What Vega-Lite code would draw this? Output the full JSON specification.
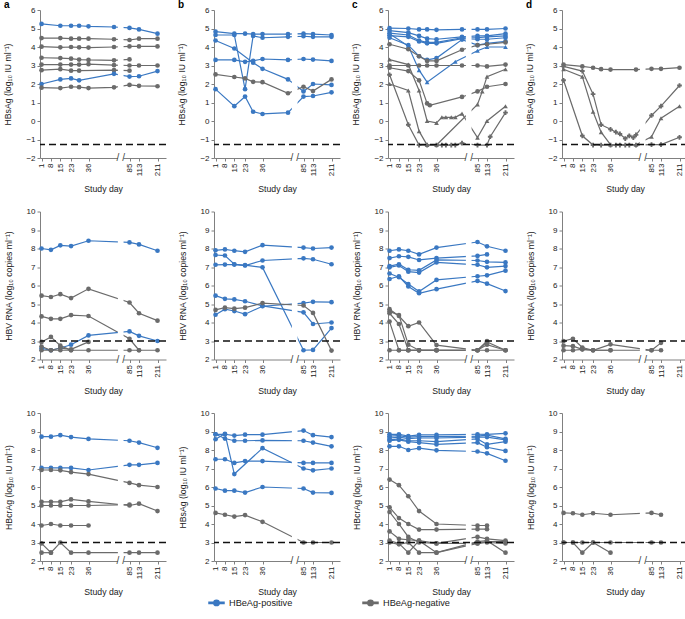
{
"$schema": "https://vega.github.io/schema/vega-lite/v6.json",
"padding": {"left": 3, "top": 0, "right": 0, "bottom": 0},
"config": {
 "font": "Liberation Sans",
 "view": {"stroke": null},
 "axis": {"zindex": 0, "grid": false, "domainColor": "#808080", "tickColor": "#808080", "domainWidth": 1, "tickWidth": 1, "tickSize": 3, "labelFontSize": 8, "labelColor": "#222", "labelPadding": 2, "titleFontSize": 8.7, "titleFontWeight": "normal", "titleColor": "#222", "labelFlush": false, "labelOverlap": false},
 "axisY": {"titlePadding": 13},
 "axisX": {"titlePadding": 9},
 "title": {"fontSize": 10, "fontWeight": "bold", "anchor": "start", "frame": "bounds", "offset": -4, "color": "#000"}
},
"datasets": {"d": [
{"p":"a1","i":"a1P1","g":"P","m":"c","d":1,"v":5.25},{"p":"a1","i":"a1P1","g":"P","m":"c","d":15,"v":5.15},{"p":"a1","i":"a1P1","g":"P","m":"c","d":23,"v":5.15},{"p":"a1","i":"a1P1","g":"P","m":"c","d":29,"v":5.15},{"p":"a1","i":"a1P1","g":"P","m":"c","d":36,"v":5.12},{"p":"a1","i":"a1P1","g":"P","m":"c","d":55,"v":5.08},{"p":"a1","i":"a1P1","g":"P","m":"c","d":85,"v":5.03},{"p":"a1","i":"a1P1","g":"P","m":"c","d":113,"v":4.95},{"p":"a1","i":"a1P1","g":"P","m":"c","d":211,"v":4.72},
{"p":"a1","i":"a1N1","g":"N","m":"c","d":1,"v":4.48},{"p":"a1","i":"a1N1","g":"N","m":"c","d":15,"v":4.48},{"p":"a1","i":"a1N1","g":"N","m":"c","d":23,"v":4.45},{"p":"a1","i":"a1N1","g":"N","m":"c","d":29,"v":4.45},{"p":"a1","i":"a1N1","g":"N","m":"c","d":36,"v":4.45},{"p":"a1","i":"a1N1","g":"N","m":"c","d":55,"v":4.42},{"p":"a1","i":"a1N1","g":"N","m":"c","d":85,"v":4.38},{"p":"a1","i":"a1N1","g":"N","m":"c","d":113,"v":4.45},{"p":"a1","i":"a1N1","g":"N","m":"c","d":211,"v":4.45},
{"p":"a1","i":"a1N2","g":"N","m":"c","d":1,"v":4.02},{"p":"a1","i":"a1N2","g":"N","m":"c","d":15,"v":3.98},{"p":"a1","i":"a1N2","g":"N","m":"c","d":23,"v":4.0},{"p":"a1","i":"a1N2","g":"N","m":"c","d":29,"v":3.98},{"p":"a1","i":"a1N2","g":"N","m":"c","d":36,"v":3.97},{"p":"a1","i":"a1N2","g":"N","m":"c","d":55,"v":4.0},{"p":"a1","i":"a1N2","g":"N","m":"c","d":85,"v":4.03},{"p":"a1","i":"a1N2","g":"N","m":"c","d":113,"v":4.03},{"p":"a1","i":"a1N2","g":"N","m":"c","d":211,"v":4.03},
{"p":"a1","i":"a1N3","g":"N","m":"c","d":1,"v":3.42},{"p":"a1","i":"a1N3","g":"N","m":"c","d":15,"v":3.4},{"p":"a1","i":"a1N3","g":"N","m":"c","d":23,"v":3.37},{"p":"a1","i":"a1N3","g":"N","m":"c","d":29,"v":3.32},{"p":"a1","i":"a1N3","g":"N","m":"c","d":36,"v":3.3},{"p":"a1","i":"a1N3","g":"N","m":"c","d":55,"v":3.28},{"p":"a1","i":"a1N3","g":"N","m":"c","d":85,"v":3.33},
{"p":"a1","i":"a1N4","g":"N","m":"c","d":1,"v":3.05},{"p":"a1","i":"a1N4","g":"N","m":"c","d":15,"v":3.05},{"p":"a1","i":"a1N4","g":"N","m":"c","d":23,"v":3.05},{"p":"a1","i":"a1N4","g":"N","m":"c","d":29,"v":3.05},{"p":"a1","i":"a1N4","g":"N","m":"c","d":36,"v":3.07},{"p":"a1","i":"a1N4","g":"N","m":"c","d":55,"v":3.02},{"p":"a1","i":"a1N4","g":"N","m":"c","d":85,"v":3.0},{"p":"a1","i":"a1N4","g":"N","m":"c","d":113,"v":3.0},{"p":"a1","i":"a1N4","g":"N","m":"c","d":211,"v":3.0},
{"p":"a1","i":"a1N5","g":"N","m":"c","d":1,"v":2.75},{"p":"a1","i":"a1N5","g":"N","m":"c","d":15,"v":2.8},{"p":"a1","i":"a1N5","g":"N","m":"c","d":23,"v":2.72},{"p":"a1","i":"a1N5","g":"N","m":"c","d":29,"v":2.72},{"p":"a1","i":"a1N5","g":"N","m":"c","d":55,"v":2.75},{"p":"a1","i":"a1N5","g":"N","m":"c","d":85,"v":2.72},
{"p":"a1","i":"a1P2","g":"P","m":"c","d":1,"v":2.0},{"p":"a1","i":"a1P2","g":"P","m":"c","d":15,"v":2.25},{"p":"a1","i":"a1P2","g":"P","m":"c","d":23,"v":2.3},{"p":"a1","i":"a1P2","g":"P","m":"c","d":29,"v":2.2},{"p":"a1","i":"a1P2","g":"P","m":"c","d":55,"v":2.55},{"p":"a1","i":"a1P2","g":"P","m":"c","d":85,"v":2.4},{"p":"a1","i":"a1P2","g":"P","m":"c","d":113,"v":2.42},{"p":"a1","i":"a1P2","g":"P","m":"c","d":211,"v":2.7},
{"p":"a1","i":"a1N6","g":"N","m":"c","d":1,"v":1.8},{"p":"a1","i":"a1N6","g":"N","m":"c","d":15,"v":1.78},{"p":"a1","i":"a1N6","g":"N","m":"c","d":23,"v":1.85},{"p":"a1","i":"a1N6","g":"N","m":"c","d":29,"v":1.83},{"p":"a1","i":"a1N6","g":"N","m":"c","d":36,"v":1.78},{"p":"a1","i":"a1N6","g":"N","m":"c","d":55,"v":1.82},{"p":"a1","i":"a1N6","g":"N","m":"c","d":85,"v":1.95},{"p":"a1","i":"a1N6","g":"N","m":"c","d":113,"v":1.9},{"p":"a1","i":"a1N6","g":"N","m":"c","d":211,"v":1.88},

{"p":"a2","i":"a2P1","g":"P","m":"c","d":1,"v":8.0},{"p":"a2","i":"a2P1","g":"P","m":"c","d":8,"v":7.93},{"p":"a2","i":"a2P1","g":"P","m":"c","d":15,"v":8.17},{"p":"a2","i":"a2P1","g":"P","m":"c","d":23,"v":8.13},{"p":"a2","i":"a2P1","g":"P","m":"c","d":36,"v":8.42},{"p":"a2","i":"a2P1","g":"P","m":"c","d":85,"v":8.33},{"p":"a2","i":"a2P1","g":"P","m":"c","d":113,"v":8.22},{"p":"a2","i":"a2P1","g":"P","m":"c","d":211,"v":7.88},
{"p":"a2","i":"a2N1","g":"N","m":"c","d":1,"v":5.45},{"p":"a2","i":"a2N1","g":"N","m":"c","d":8,"v":5.38},{"p":"a2","i":"a2N1","g":"N","m":"c","d":15,"v":5.53},{"p":"a2","i":"a2N1","g":"N","m":"c","d":23,"v":5.32},{"p":"a2","i":"a2N1","g":"N","m":"c","d":36,"v":5.82},{"p":"a2","i":"a2N1","g":"N","m":"c","d":85,"v":5.08},{"p":"a2","i":"a2N1","g":"N","m":"c","d":113,"v":4.5},{"p":"a2","i":"a2N1","g":"N","m":"c","d":211,"v":4.1},
{"p":"a2","i":"a2N2","g":"N","m":"c","d":1,"v":4.33},{"p":"a2","i":"a2N2","g":"N","m":"c","d":8,"v":4.2},{"p":"a2","i":"a2N2","g":"N","m":"c","d":15,"v":4.2},{"p":"a2","i":"a2N2","g":"N","m":"c","d":23,"v":4.4},{"p":"a2","i":"a2N2","g":"N","m":"c","d":36,"v":4.35},{"p":"a2","i":"a2N2","g":"N","m":"c","d":85,"v":3.12},{"p":"a2","i":"a2N2","g":"N","m":"c","d":113,"v":2.5},
{"p":"a2","i":"a2P2","g":"P","m":"c","d":1,"v":2.6},{"p":"a2","i":"a2P2","g":"P","m":"c","d":8,"v":2.5},{"p":"a2","i":"a2P2","g":"P","m":"c","d":15,"v":2.62},{"p":"a2","i":"a2P2","g":"P","m":"c","d":23,"v":2.8},{"p":"a2","i":"a2P2","g":"P","m":"c","d":36,"v":3.3},{"p":"a2","i":"a2P2","g":"P","m":"c","d":85,"v":3.52},{"p":"a2","i":"a2P2","g":"P","m":"c","d":113,"v":3.28},{"p":"a2","i":"a2P2","g":"P","m":"c","d":211,"v":3.0},
{"p":"a2","i":"a2N3","g":"N","m":"c","d":1,"v":2.95},{"p":"a2","i":"a2N3","g":"N","m":"c","d":8,"v":3.22},{"p":"a2","i":"a2N3","g":"N","m":"c","d":15,"v":2.75},{"p":"a2","i":"a2N3","g":"N","m":"c","d":23,"v":2.5},
{"p":"a2","i":"a2N4","g":"N","m":"c","d":1,"v":2.7},{"p":"a2","i":"a2N4","g":"N","m":"c","d":8,"v":2.5},{"p":"a2","i":"a2N4","g":"N","m":"c","d":15,"v":2.62},{"p":"a2","i":"a2N4","g":"N","m":"c","d":23,"v":2.55},{"p":"a2","i":"a2N4","g":"N","m":"c","d":36,"v":2.95},
{"p":"a2","i":"a2N5","g":"N","m":"c","d":1,"v":2.5},{"p":"a2","i":"a2N5","g":"N","m":"c","d":8,"v":2.5},{"p":"a2","i":"a2N5","g":"N","m":"c","d":15,"v":2.5},{"p":"a2","i":"a2N5","g":"N","m":"c","d":23,"v":2.5},{"p":"a2","i":"a2N5","g":"N","m":"c","d":36,"v":2.5},{"p":"a2","i":"a2N5","g":"N","m":"c","d":85,"v":2.5},{"p":"a2","i":"a2N5","g":"N","m":"c","d":113,"v":2.5},{"p":"a2","i":"a2N5","g":"N","m":"c","d":211,"v":2.5},

{"p":"a3","i":"a3P1","g":"P","m":"c","d":1,"v":8.72},{"p":"a3","i":"a3P1","g":"P","m":"c","d":8,"v":8.72},{"p":"a3","i":"a3P1","g":"P","m":"c","d":15,"v":8.8},{"p":"a3","i":"a3P1","g":"P","m":"c","d":23,"v":8.7},{"p":"a3","i":"a3P1","g":"P","m":"c","d":36,"v":8.6},{"p":"a3","i":"a3P1","g":"P","m":"c","d":85,"v":8.5},{"p":"a3","i":"a3P1","g":"P","m":"c","d":113,"v":8.4},{"p":"a3","i":"a3P1","g":"P","m":"c","d":211,"v":8.12},
{"p":"a3","i":"a3P2","g":"P","m":"c","d":1,"v":7.03},{"p":"a3","i":"a3P2","g":"P","m":"c","d":8,"v":7.03},{"p":"a3","i":"a3P2","g":"P","m":"c","d":15,"v":7.03},{"p":"a3","i":"a3P2","g":"P","m":"c","d":23,"v":7.03},{"p":"a3","i":"a3P2","g":"P","m":"c","d":36,"v":6.92},{"p":"a3","i":"a3P2","g":"P","m":"c","d":85,"v":7.2},{"p":"a3","i":"a3P2","g":"P","m":"c","d":113,"v":7.2},{"p":"a3","i":"a3P2","g":"P","m":"c","d":211,"v":7.3},
{"p":"a3","i":"a3N1","g":"N","m":"c","d":1,"v":6.92},{"p":"a3","i":"a3N1","g":"N","m":"c","d":8,"v":6.92},{"p":"a3","i":"a3N1","g":"N","m":"c","d":15,"v":6.9},{"p":"a3","i":"a3N1","g":"N","m":"c","d":23,"v":6.8},{"p":"a3","i":"a3N1","g":"N","m":"c","d":36,"v":6.7},{"p":"a3","i":"a3N1","g":"N","m":"c","d":85,"v":6.22},{"p":"a3","i":"a3N1","g":"N","m":"c","d":113,"v":6.1},{"p":"a3","i":"a3N1","g":"N","m":"c","d":211,"v":6.0},
{"p":"a3","i":"a3N2","g":"N","m":"c","d":1,"v":5.2},{"p":"a3","i":"a3N2","g":"N","m":"c","d":8,"v":5.2},{"p":"a3","i":"a3N2","g":"N","m":"c","d":15,"v":5.2},{"p":"a3","i":"a3N2","g":"N","m":"c","d":23,"v":5.33},{"p":"a3","i":"a3N2","g":"N","m":"c","d":36,"v":5.22},{"p":"a3","i":"a3N2","g":"N","m":"c","d":85,"v":5.0},{"p":"a3","i":"a3N2","g":"N","m":"c","d":113,"v":5.1},{"p":"a3","i":"a3N2","g":"N","m":"c","d":211,"v":4.7},
{"p":"a3","i":"a3N3","g":"N","m":"c","d":1,"v":5.0},{"p":"a3","i":"a3N3","g":"N","m":"c","d":8,"v":5.0},{"p":"a3","i":"a3N3","g":"N","m":"c","d":15,"v":5.0},{"p":"a3","i":"a3N3","g":"N","m":"c","d":23,"v":5.0},{"p":"a3","i":"a3N3","g":"N","m":"c","d":36,"v":5.0},{"p":"a3","i":"a3N3","g":"N","m":"c","d":85,"v":5.05},
{"p":"a3","i":"a3N4","g":"N","m":"c","d":1,"v":3.92},{"p":"a3","i":"a3N4","g":"N","m":"c","d":8,"v":4.0},{"p":"a3","i":"a3N4","g":"N","m":"c","d":15,"v":3.92},{"p":"a3","i":"a3N4","g":"N","m":"c","d":23,"v":3.92},{"p":"a3","i":"a3N4","g":"N","m":"c","d":36,"v":3.92},
{"p":"a3","i":"a3N5","g":"N","m":"c","d":1,"v":2.95},{"p":"a3","i":"a3N5","g":"N","m":"c","d":8,"v":2.45},{"p":"a3","i":"a3N5","g":"N","m":"c","d":15,"v":3.0},{"p":"a3","i":"a3N5","g":"N","m":"c","d":23,"v":2.45},{"p":"a3","i":"a3N5","g":"N","m":"c","d":36,"v":2.45},{"p":"a3","i":"a3N5","g":"N","m":"c","d":85,"v":2.45},{"p":"a3","i":"a3N5","g":"N","m":"c","d":113,"v":2.45},{"p":"a3","i":"a3N5","g":"N","m":"c","d":211,"v":2.45},
{"p":"a3","i":"a3N6","g":"N","m":"c","d":1,"v":2.45},{"p":"a3","i":"a3N6","g":"N","m":"c","d":8,"v":2.45},

{"p":"b1","i":"b1P1","g":"P","m":"c","d":1,"v":4.83},{"p":"b1","i":"b1P1","g":"P","m":"c","d":15,"v":4.72},{"p":"b1","i":"b1P1","g":"P","m":"c","d":23,"v":4.72},{"p":"b1","i":"b1P1","g":"P","m":"c","d":29,"v":4.7},{"p":"b1","i":"b1P1","g":"P","m":"c","d":36,"v":4.7},{"p":"b1","i":"b1P1","g":"P","m":"c","d":55,"v":4.7},{"p":"b1","i":"b1P1","g":"P","m":"c","d":85,"v":4.72},{"p":"b1","i":"b1P1","g":"P","m":"c","d":113,"v":4.7},{"p":"b1","i":"b1P1","g":"P","m":"c","d":211,"v":4.65},
{"p":"b1","i":"b1P2","g":"P","m":"c","d":1,"v":4.65},{"p":"b1","i":"b1P2","g":"P","m":"c","d":15,"v":4.65},{"p":"b1","i":"b1P2","g":"P","m":"c","d":23,"v":1.72},{"p":"b1","i":"b1P2","g":"P","m":"c","d":29,"v":4.6},{"p":"b1","i":"b1P2","g":"P","m":"c","d":36,"v":4.5},{"p":"b1","i":"b1P2","g":"P","m":"c","d":55,"v":4.55},{"p":"b1","i":"b1P2","g":"P","m":"c","d":85,"v":4.58},{"p":"b1","i":"b1P2","g":"P","m":"c","d":113,"v":4.55},{"p":"b1","i":"b1P2","g":"P","m":"c","d":211,"v":4.55},
{"p":"b1","i":"b1P3","g":"P","m":"c","d":1,"v":4.35},{"p":"b1","i":"b1P3","g":"P","m":"c","d":15,"v":3.92},{"p":"b1","i":"b1P3","g":"P","m":"c","d":29,"v":3.15},{"p":"b1","i":"b1P3","g":"P","m":"c","d":36,"v":2.82},{"p":"b1","i":"b1P3","g":"P","m":"c","d":55,"v":2.25},{"p":"b1","i":"b1P3","g":"P","m":"c","d":85,"v":1.6},{"p":"b1","i":"b1P3","g":"P","m":"c","d":113,"v":2.0},{"p":"b1","i":"b1P3","g":"P","m":"c","d":211,"v":1.95},
{"p":"b1","i":"b1P4","g":"P","m":"c","d":1,"v":3.3},{"p":"b1","i":"b1P4","g":"P","m":"c","d":15,"v":3.3},{"p":"b1","i":"b1P4","g":"P","m":"c","d":23,"v":3.2},{"p":"b1","i":"b1P4","g":"P","m":"c","d":29,"v":3.25},{"p":"b1","i":"b1P4","g":"P","m":"c","d":36,"v":3.35},{"p":"b1","i":"b1P4","g":"P","m":"c","d":55,"v":3.3},{"p":"b1","i":"b1P4","g":"P","m":"c","d":85,"v":3.35},{"p":"b1","i":"b1P4","g":"P","m":"c","d":113,"v":3.32},{"p":"b1","i":"b1P4","g":"P","m":"c","d":211,"v":3.25},
{"p":"b1","i":"b1N1","g":"N","m":"c","d":1,"v":2.52},{"p":"b1","i":"b1N1","g":"N","m":"c","d":15,"v":2.38},{"p":"b1","i":"b1N1","g":"N","m":"c","d":23,"v":2.3},{"p":"b1","i":"b1N1","g":"N","m":"c","d":29,"v":2.12},{"p":"b1","i":"b1N1","g":"N","m":"c","d":36,"v":2.1},{"p":"b1","i":"b1N1","g":"N","m":"c","d":55,"v":1.5},{"p":"b1","i":"b1N1","g":"N","m":"c","d":85,"v":1.85},{"p":"b1","i":"b1N1","g":"N","m":"c","d":113,"v":1.62},{"p":"b1","i":"b1N1","g":"N","m":"c","d":211,"v":2.25},
{"p":"b1","i":"b1P5","g":"P","m":"c","d":1,"v":1.72},{"p":"b1","i":"b1P5","g":"P","m":"c","d":15,"v":0.8},{"p":"b1","i":"b1P5","g":"P","m":"c","d":23,"v":1.32},{"p":"b1","i":"b1P5","g":"P","m":"c","d":29,"v":0.5},{"p":"b1","i":"b1P5","g":"P","m":"c","d":36,"v":0.38},{"p":"b1","i":"b1P5","g":"P","m":"c","d":55,"v":0.45},{"p":"b1","i":"b1P5","g":"P","m":"c","d":85,"v":1.32},{"p":"b1","i":"b1P5","g":"P","m":"c","d":113,"v":1.35},{"p":"b1","i":"b1P5","g":"P","m":"c","d":211,"v":1.55},

{"p":"b2","i":"b2P1","g":"P","m":"c","d":1,"v":7.9},{"p":"b2","i":"b2P1","g":"P","m":"c","d":8,"v":7.95},{"p":"b2","i":"b2P1","g":"P","m":"c","d":15,"v":7.88},{"p":"b2","i":"b2P1","g":"P","m":"c","d":23,"v":7.82},{"p":"b2","i":"b2P1","g":"P","m":"c","d":36,"v":8.18},{"p":"b2","i":"b2P1","g":"P","m":"c","d":85,"v":8.05},{"p":"b2","i":"b2P1","g":"P","m":"c","d":113,"v":8.0},{"p":"b2","i":"b2P1","g":"P","m":"c","d":211,"v":8.05},
{"p":"b2","i":"b2P2","g":"P","m":"c","d":1,"v":7.65},{"p":"b2","i":"b2P2","g":"P","m":"c","d":8,"v":7.62},{"p":"b2","i":"b2P2","g":"P","m":"c","d":15,"v":7.15},{"p":"b2","i":"b2P2","g":"P","m":"c","d":23,"v":7.1},{"p":"b2","i":"b2P2","g":"P","m":"c","d":36,"v":6.98},{"p":"b2","i":"b2P2","g":"P","m":"c","d":85,"v":2.5},{"p":"b2","i":"b2P2","g":"P","m":"c","d":113,"v":2.52},{"p":"b2","i":"b2P2","g":"P","m":"c","d":211,"v":3.7},
{"p":"b2","i":"b2P3","g":"P","m":"c","d":1,"v":7.12},{"p":"b2","i":"b2P3","g":"P","m":"c","d":8,"v":7.13},{"p":"b2","i":"b2P3","g":"P","m":"c","d":15,"v":7.13},{"p":"b2","i":"b2P3","g":"P","m":"c","d":23,"v":7.08},{"p":"b2","i":"b2P3","g":"P","m":"c","d":36,"v":7.35},{"p":"b2","i":"b2P3","g":"P","m":"c","d":85,"v":7.47},{"p":"b2","i":"b2P3","g":"P","m":"c","d":113,"v":7.42},{"p":"b2","i":"b2P3","g":"P","m":"c","d":211,"v":7.15},
{"p":"b2","i":"b2P4","g":"P","m":"c","d":1,"v":5.45},{"p":"b2","i":"b2P4","g":"P","m":"c","d":8,"v":5.28},{"p":"b2","i":"b2P4","g":"P","m":"c","d":15,"v":5.25},{"p":"b2","i":"b2P4","g":"P","m":"c","d":23,"v":5.15},{"p":"b2","i":"b2P4","g":"P","m":"c","d":36,"v":4.9},{"p":"b2","i":"b2P4","g":"P","m":"c","d":85,"v":4.55},{"p":"b2","i":"b2P4","g":"P","m":"c","d":113,"v":3.92},{"p":"b2","i":"b2P4","g":"P","m":"c","d":211,"v":4.0},
{"p":"b2","i":"b2P5","g":"P","m":"c","d":1,"v":4.42},{"p":"b2","i":"b2P5","g":"P","m":"c","d":8,"v":4.72},{"p":"b2","i":"b2P5","g":"P","m":"c","d":15,"v":4.62},{"p":"b2","i":"b2P5","g":"P","m":"c","d":23,"v":4.45},{"p":"b2","i":"b2P5","g":"P","m":"c","d":36,"v":4.88},{"p":"b2","i":"b2P5","g":"P","m":"c","d":85,"v":5.05},{"p":"b2","i":"b2P5","g":"P","m":"c","d":113,"v":5.12},{"p":"b2","i":"b2P5","g":"P","m":"c","d":211,"v":5.1},
{"p":"b2","i":"b2N1","g":"N","m":"c","d":1,"v":4.68},{"p":"b2","i":"b2N1","g":"N","m":"c","d":8,"v":4.8},{"p":"b2","i":"b2N1","g":"N","m":"c","d":15,"v":4.75},{"p":"b2","i":"b2N1","g":"N","m":"c","d":23,"v":4.8},{"p":"b2","i":"b2N1","g":"N","m":"c","d":36,"v":5.05},{"p":"b2","i":"b2N1","g":"N","m":"c","d":85,"v":4.92},{"p":"b2","i":"b2N1","g":"N","m":"c","d":113,"v":4.52},{"p":"b2","i":"b2N1","g":"N","m":"c","d":211,"v":2.48},

{"p":"b3","i":"b3P1","g":"P","m":"c","d":1,"v":8.85},{"p":"b3","i":"b3P1","g":"P","m":"c","d":8,"v":8.62},{"p":"b3","i":"b3P1","g":"P","m":"c","d":15,"v":8.5},{"p":"b3","i":"b3P1","g":"P","m":"c","d":23,"v":8.5},{"p":"b3","i":"b3P1","g":"P","m":"c","d":36,"v":8.52},{"p":"b3","i":"b3P1","g":"P","m":"c","d":85,"v":8.5},{"p":"b3","i":"b3P1","g":"P","m":"c","d":113,"v":8.4},{"p":"b3","i":"b3P1","g":"P","m":"c","d":211,"v":8.2},
{"p":"b3","i":"b3P2","g":"P","m":"c","d":1,"v":8.58},{"p":"b3","i":"b3P2","g":"P","m":"c","d":8,"v":8.88},{"p":"b3","i":"b3P2","g":"P","m":"c","d":15,"v":6.7},{"p":"b3","i":"b3P2","g":"P","m":"c","d":36,"v":8.1},{"p":"b3","i":"b3P2","g":"P","m":"c","d":85,"v":7.0},{"p":"b3","i":"b3P2","g":"P","m":"c","d":113,"v":6.9},{"p":"b3","i":"b3P2","g":"P","m":"c","d":211,"v":7.0},
{"p":"b3","i":"b3P3","g":"P","m":"c","d":1,"v":8.85},{"p":"b3","i":"b3P3","g":"P","m":"c","d":8,"v":8.85},{"p":"b3","i":"b3P3","g":"P","m":"c","d":15,"v":8.78},{"p":"b3","i":"b3P3","g":"P","m":"c","d":23,"v":8.83},{"p":"b3","i":"b3P3","g":"P","m":"c","d":36,"v":8.83},{"p":"b3","i":"b3P3","g":"P","m":"c","d":85,"v":9.05},{"p":"b3","i":"b3P3","g":"P","m":"c","d":113,"v":8.8},{"p":"b3","i":"b3P3","g":"P","m":"c","d":211,"v":8.7},
{"p":"b3","i":"b3P4","g":"P","m":"c","d":1,"v":7.5},{"p":"b3","i":"b3P4","g":"P","m":"c","d":8,"v":7.5},{"p":"b3","i":"b3P4","g":"P","m":"c","d":15,"v":7.3},{"p":"b3","i":"b3P4","g":"P","m":"c","d":23,"v":7.4},{"p":"b3","i":"b3P4","g":"P","m":"c","d":36,"v":7.4},{"p":"b3","i":"b3P4","g":"P","m":"c","d":85,"v":7.3},{"p":"b3","i":"b3P4","g":"P","m":"c","d":113,"v":7.3},{"p":"b3","i":"b3P4","g":"P","m":"c","d":211,"v":7.3},
{"p":"b3","i":"b3P5","g":"P","m":"c","d":1,"v":5.92},{"p":"b3","i":"b3P5","g":"P","m":"c","d":8,"v":5.8},{"p":"b3","i":"b3P5","g":"P","m":"c","d":15,"v":5.8},{"p":"b3","i":"b3P5","g":"P","m":"c","d":23,"v":5.7},{"p":"b3","i":"b3P5","g":"P","m":"c","d":36,"v":6.0},{"p":"b3","i":"b3P5","g":"P","m":"c","d":85,"v":5.92},{"p":"b3","i":"b3P5","g":"P","m":"c","d":113,"v":5.7},{"p":"b3","i":"b3P5","g":"P","m":"c","d":211,"v":5.68},
{"p":"b3","i":"b3N1","g":"N","m":"c","d":1,"v":4.6},{"p":"b3","i":"b3N1","g":"N","m":"c","d":8,"v":4.5},{"p":"b3","i":"b3N1","g":"N","m":"c","d":15,"v":4.4},{"p":"b3","i":"b3N1","g":"N","m":"c","d":23,"v":4.48},{"p":"b3","i":"b3N1","g":"N","m":"c","d":36,"v":4.12},{"p":"b3","i":"b3N1","g":"N","m":"c","d":85,"v":3.0},{"p":"b3","i":"b3N1","g":"N","m":"c","d":113,"v":3.0},{"p":"b3","i":"b3N1","g":"N","m":"c","d":211,"v":3.0},

{"p":"c1","i":"c1P1","g":"P","m":"c","d":1,"v":5.02},{"p":"c1","i":"c1P1","g":"P","m":"c","d":15,"v":5.0},{"p":"c1","i":"c1P1","g":"P","m":"c","d":23,"v":4.95},{"p":"c1","i":"c1P1","g":"P","m":"c","d":29,"v":4.95},{"p":"c1","i":"c1P1","g":"P","m":"c","d":36,"v":4.93},{"p":"c1","i":"c1P1","g":"P","m":"c","d":55,"v":4.95},{"p":"c1","i":"c1P1","g":"P","m":"c","d":85,"v":4.95},{"p":"c1","i":"c1P1","g":"P","m":"c","d":113,"v":4.95},{"p":"c1","i":"c1P1","g":"P","m":"c","d":211,"v":5.0},
{"p":"c1","i":"c1P2","g":"P","m":"c","d":1,"v":4.88},{"p":"c1","i":"c1P2","g":"P","m":"c","d":15,"v":4.78},{"p":"c1","i":"c1P2","g":"P","m":"c","d":23,"v":4.6},{"p":"c1","i":"c1P2","g":"P","m":"c","d":29,"v":4.45},{"p":"c1","i":"c1P2","g":"P","m":"c","d":36,"v":4.42},{"p":"c1","i":"c1P2","g":"P","m":"c","d":55,"v":4.55},{"p":"c1","i":"c1P2","g":"P","m":"c","d":85,"v":4.6},{"p":"c1","i":"c1P2","g":"P","m":"c","d":113,"v":4.6},{"p":"c1","i":"c1P2","g":"P","m":"c","d":211,"v":4.72},
{"p":"c1","i":"c1P3","g":"P","m":"c","d":1,"v":4.75},{"p":"c1","i":"c1P3","g":"P","m":"c","d":15,"v":4.65},{"p":"c1","i":"c1P3","g":"P","m":"c","d":23,"v":4.35},{"p":"c1","i":"c1P3","g":"P","m":"c","d":29,"v":4.25},{"p":"c1","i":"c1P3","g":"P","m":"c","d":36,"v":4.25},{"p":"c1","i":"c1P3","g":"P","m":"c","d":55,"v":4.5},{"p":"c1","i":"c1P3","g":"P","m":"c","d":85,"v":4.5},{"p":"c1","i":"c1P3","g":"P","m":"c","d":113,"v":4.55},{"p":"c1","i":"c1P3","g":"P","m":"c","d":211,"v":4.6},
{"p":"c1","i":"c1P4","g":"P","m":"c","d":1,"v":4.62},{"p":"c1","i":"c1P4","g":"P","m":"c","d":15,"v":4.55},{"p":"c1","i":"c1P4","g":"P","m":"c","d":23,"v":4.3},{"p":"c1","i":"c1P4","g":"P","m":"c","d":29,"v":4.2},{"p":"c1","i":"c1P4","g":"P","m":"c","d":36,"v":4.2},{"p":"c1","i":"c1P4","g":"P","m":"c","d":55,"v":4.45},{"p":"c1","i":"c1P4","g":"P","m":"c","d":85,"v":4.42},{"p":"c1","i":"c1P4","g":"P","m":"c","d":113,"v":4.42},{"p":"c1","i":"c1P4","g":"P","m":"c","d":211,"v":4.5},
{"p":"c1","i":"c1P5","g":"P","m":"c","d":1,"v":4.5},{"p":"c1","i":"c1P5","g":"P","m":"c","d":15,"v":4.1},{"p":"c1","i":"c1P5","g":"P","m":"c","d":23,"v":3.5},{"p":"c1","i":"c1P5","g":"P","m":"c","d":29,"v":3.3},{"p":"c1","i":"c1P5","g":"P","m":"c","d":36,"v":3.4},{"p":"c1","i":"c1P5","g":"P","m":"c","d":55,"v":4.4},{"p":"c1","i":"c1P5","g":"P","m":"c","d":85,"v":4.1},{"p":"c1","i":"c1P5","g":"P","m":"c","d":113,"v":4.2},{"p":"c1","i":"c1P5","g":"P","m":"c","d":211,"v":4.3},
{"p":"c1","i":"c1P6","g":"P","m":"t","d":1,"v":4.72},{"p":"c1","i":"c1P6","g":"P","m":"t","d":15,"v":4.05},{"p":"c1","i":"c1P6","g":"P","m":"t","d":23,"v":2.75},{"p":"c1","i":"c1P6","g":"P","m":"t","d":29,"v":2.1},{"p":"c1","i":"c1P6","g":"P","m":"t","d":50,"v":3.2},{"p":"c1","i":"c1P6","g":"P","m":"t","d":85,"v":3.8},{"p":"c1","i":"c1P6","g":"P","m":"t","d":113,"v":4.0},{"p":"c1","i":"c1P6","g":"P","m":"t","d":211,"v":4.0},
{"p":"c1","i":"c1N1","g":"N","m":"c","d":1,"v":4.15},{"p":"c1","i":"c1N1","g":"N","m":"c","d":15,"v":3.88},{"p":"c1","i":"c1N1","g":"N","m":"c","d":23,"v":3.5},{"p":"c1","i":"c1N1","g":"N","m":"c","d":29,"v":3.25},{"p":"c1","i":"c1N1","g":"N","m":"c","d":36,"v":3.25},{"p":"c1","i":"c1N1","g":"N","m":"c","d":55,"v":3.85},{"p":"c1","i":"c1N1","g":"N","m":"c","d":85,"v":4.1},{"p":"c1","i":"c1N1","g":"N","m":"c","d":113,"v":4.15},{"p":"c1","i":"c1N1","g":"N","m":"c","d":211,"v":4.25},
{"p":"c1","i":"c1N2","g":"N","m":"c","d":1,"v":3.0},{"p":"c1","i":"c1N2","g":"N","m":"c","d":15,"v":3.0},{"p":"c1","i":"c1N2","g":"N","m":"c","d":23,"v":3.0},{"p":"c1","i":"c1N2","g":"N","m":"c","d":29,"v":3.0},{"p":"c1","i":"c1N2","g":"N","m":"c","d":36,"v":3.0},{"p":"c1","i":"c1N2","g":"N","m":"c","d":55,"v":3.0},{"p":"c1","i":"c1N2","g":"N","m":"c","d":85,"v":3.0},{"p":"c1","i":"c1N2","g":"N","m":"c","d":113,"v":2.95},{"p":"c1","i":"c1N2","g":"N","m":"c","d":211,"v":3.05},
{"p":"c1","i":"c1N3","g":"N","m":"c","d":1,"v":2.88},{"p":"c1","i":"c1N3","g":"N","m":"c","d":15,"v":2.7},{"p":"c1","i":"c1N3","g":"N","m":"c","d":23,"v":2.2},{"p":"c1","i":"c1N3","g":"N","m":"c","d":29,"v":0.95},{"p":"c1","i":"c1N3","g":"N","m":"c","d":31,"v":0.85},{"p":"c1","i":"c1N3","g":"N","m":"c","d":55,"v":1.3},{"p":"c1","i":"c1N3","g":"N","m":"c","d":85,"v":1.6},{"p":"c1","i":"c1N3","g":"N","m":"c","d":113,"v":1.85},{"p":"c1","i":"c1N3","g":"N","m":"c","d":211,"v":2.0},
{"p":"c1","i":"c1N4","g":"N","m":"t","d":1,"v":3.32},{"p":"c1","i":"c1N4","g":"N","m":"t","d":15,"v":3.05},{"p":"c1","i":"c1N4","g":"N","m":"t","d":23,"v":1.65},{"p":"c1","i":"c1N4","g":"N","m":"t","d":29,"v":0.0},{"p":"c1","i":"c1N4","g":"N","m":"t","d":36,"v":-0.1},{"p":"c1","i":"c1N4","g":"N","m":"t","d":40,"v":0.2},{"p":"c1","i":"c1N4","g":"N","m":"t","d":43,"v":0.2},{"p":"c1","i":"c1N4","g":"N","m":"t","d":47,"v":0.2},{"p":"c1","i":"c1N4","g":"N","m":"t","d":50,"v":0.2},{"p":"c1","i":"c1N4","g":"N","m":"t","d":55,"v":0.4},{"p":"c1","i":"c1N4","g":"N","m":"t","d":85,"v":-0.9},{"p":"c1","i":"c1N4","g":"N","m":"t","d":113,"v":0.0},{"p":"c1","i":"c1N4","g":"N","m":"t","d":211,"v":0.8},
{"p":"c1","i":"c1N5","g":"N","m":"s","d":1,"v":2.5},{"p":"c1","i":"c1N5","g":"N","m":"s","d":15,"v":-0.2},{"p":"c1","i":"c1N5","g":"N","m":"s","d":23,"v":-1.3},{"p":"c1","i":"c1N5","g":"N","m":"s","d":29,"v":-1.3},{"p":"c1","i":"c1N5","g":"N","m":"s","d":36,"v":-1.3},{"p":"c1","i":"c1N5","g":"N","m":"s","d":40,"v":-1.3},{"p":"c1","i":"c1N5","g":"N","m":"s","d":43,"v":-1.3},{"p":"c1","i":"c1N5","g":"N","m":"s","d":47,"v":-1.3},{"p":"c1","i":"c1N5","g":"N","m":"s","d":50,"v":-1.3},{"p":"c1","i":"c1N5","g":"N","m":"s","d":55,"v":-1.2},{"p":"c1","i":"c1N5","g":"N","m":"s","d":85,"v":-1.3},{"p":"c1","i":"c1N5","g":"N","m":"s","d":113,"v":-1.3},{"p":"c1","i":"c1N5","g":"N","m":"s","d":130,"v":-0.85},{"p":"c1","i":"c1N5","g":"N","m":"s","d":211,"v":0.45},
{"p":"c1","i":"c1N6","g":"N","m":"t","d":1,"v":2.0},{"p":"c1","i":"c1N6","g":"N","m":"t","d":15,"v":1.65},{"p":"c1","i":"c1N6","g":"N","m":"t","d":23,"v":-0.55},{"p":"c1","i":"c1N6","g":"N","m":"t","d":29,"v":-1.3},{"p":"c1","i":"c1N6","g":"N","m":"t","d":36,"v":-1.3},{"p":"c1","i":"c1N6","g":"N","m":"t","d":85,"v":0.9},{"p":"c1","i":"c1N6","g":"N","m":"t","d":99,"v":1.6},{"p":"c1","i":"c1N6","g":"N","m":"t","d":113,"v":2.4},{"p":"c1","i":"c1N6","g":"N","m":"t","d":211,"v":2.8},

{"p":"c2","i":"c2P1","g":"P","m":"c","d":1,"v":7.88},{"p":"c2","i":"c2P1","g":"P","m":"c","d":8,"v":7.95},{"p":"c2","i":"c2P1","g":"P","m":"c","d":15,"v":7.88},{"p":"c2","i":"c2P1","g":"P","m":"c","d":23,"v":7.68},{"p":"c2","i":"c2P1","g":"P","m":"c","d":36,"v":8.05},{"p":"c2","i":"c2P1","g":"P","m":"c","d":85,"v":8.35},{"p":"c2","i":"c2P1","g":"P","m":"c","d":113,"v":8.12},{"p":"c2","i":"c2P1","g":"P","m":"c","d":211,"v":7.88},
{"p":"c2","i":"c2P2","g":"P","m":"c","d":1,"v":7.48},{"p":"c2","i":"c2P2","g":"P","m":"c","d":8,"v":7.58},{"p":"c2","i":"c2P2","g":"P","m":"c","d":15,"v":7.55},{"p":"c2","i":"c2P2","g":"P","m":"c","d":23,"v":7.38},{"p":"c2","i":"c2P2","g":"P","m":"c","d":36,"v":7.48},{"p":"c2","i":"c2P2","g":"P","m":"c","d":85,"v":7.6},{"p":"c2","i":"c2P2","g":"P","m":"c","d":113,"v":7.68},
{"p":"c2","i":"c2P3","g":"P","m":"c","d":1,"v":7.05},{"p":"c2","i":"c2P3","g":"P","m":"c","d":8,"v":7.15},{"p":"c2","i":"c2P3","g":"P","m":"c","d":15,"v":6.85},{"p":"c2","i":"c2P3","g":"P","m":"c","d":23,"v":6.82},{"p":"c2","i":"c2P3","g":"P","m":"c","d":36,"v":7.38},{"p":"c2","i":"c2P3","g":"P","m":"c","d":85,"v":7.35},{"p":"c2","i":"c2P3","g":"P","m":"c","d":113,"v":7.28},{"p":"c2","i":"c2P3","g":"P","m":"c","d":211,"v":7.25},
{"p":"c2","i":"c2P4","g":"P","m":"c","d":1,"v":6.98},{"p":"c2","i":"c2P4","g":"P","m":"c","d":8,"v":7.08},{"p":"c2","i":"c2P4","g":"P","m":"c","d":15,"v":6.75},{"p":"c2","i":"c2P4","g":"P","m":"c","d":23,"v":6.7},{"p":"c2","i":"c2P4","g":"P","m":"c","d":36,"v":7.25},{"p":"c2","i":"c2P4","g":"P","m":"c","d":85,"v":7.12},{"p":"c2","i":"c2P4","g":"P","m":"c","d":113,"v":6.98},{"p":"c2","i":"c2P4","g":"P","m":"c","d":211,"v":7.05},
{"p":"c2","i":"c2P5","g":"P","m":"c","d":1,"v":6.65},{"p":"c2","i":"c2P5","g":"P","m":"c","d":8,"v":6.45},{"p":"c2","i":"c2P5","g":"P","m":"c","d":15,"v":6.08},{"p":"c2","i":"c2P5","g":"P","m":"c","d":23,"v":5.68},{"p":"c2","i":"c2P5","g":"P","m":"c","d":36,"v":6.3},{"p":"c2","i":"c2P5","g":"P","m":"c","d":85,"v":6.5},{"p":"c2","i":"c2P5","g":"P","m":"c","d":113,"v":6.55},{"p":"c2","i":"c2P5","g":"P","m":"c","d":211,"v":6.8},
{"p":"c2","i":"c2P6","g":"P","m":"c","d":1,"v":6.35},{"p":"c2","i":"c2P6","g":"P","m":"c","d":8,"v":6.5},{"p":"c2","i":"c2P6","g":"P","m":"c","d":15,"v":5.95},{"p":"c2","i":"c2P6","g":"P","m":"c","d":23,"v":5.58},{"p":"c2","i":"c2P6","g":"P","m":"c","d":36,"v":5.8},{"p":"c2","i":"c2P6","g":"P","m":"c","d":85,"v":6.25},{"p":"c2","i":"c2P6","g":"P","m":"c","d":113,"v":6.1},{"p":"c2","i":"c2P6","g":"P","m":"c","d":211,"v":5.7},
{"p":"c2","i":"c2N1","g":"N","m":"c","d":1,"v":4.72},{"p":"c2","i":"c2N1","g":"N","m":"c","d":8,"v":4.35},{"p":"c2","i":"c2N1","g":"N","m":"c","d":15,"v":3.8},{"p":"c2","i":"c2N1","g":"N","m":"c","d":23,"v":4.0},{"p":"c2","i":"c2N1","g":"N","m":"c","d":36,"v":2.78},{"p":"c2","i":"c2N1","g":"N","m":"c","d":85,"v":2.5},{"p":"c2","i":"c2N1","g":"N","m":"c","d":113,"v":2.95},{"p":"c2","i":"c2N1","g":"N","m":"c","d":211,"v":2.5},
{"p":"c2","i":"c2N2","g":"N","m":"c","d":1,"v":4.6},{"p":"c2","i":"c2N2","g":"N","m":"c","d":8,"v":4.4},{"p":"c2","i":"c2N2","g":"N","m":"c","d":15,"v":2.8},{"p":"c2","i":"c2N2","g":"N","m":"c","d":23,"v":2.5},{"p":"c2","i":"c2N2","g":"N","m":"c","d":36,"v":2.5},{"p":"c2","i":"c2N2","g":"N","m":"c","d":85,"v":2.5},{"p":"c2","i":"c2N2","g":"N","m":"c","d":113,"v":3.0},
{"p":"c2","i":"c2N3","g":"N","m":"c","d":1,"v":4.5},{"p":"c2","i":"c2N3","g":"N","m":"c","d":8,"v":3.92},{"p":"c2","i":"c2N3","g":"N","m":"c","d":15,"v":2.5},{"p":"c2","i":"c2N3","g":"N","m":"c","d":23,"v":2.5},{"p":"c2","i":"c2N3","g":"N","m":"c","d":36,"v":2.5},{"p":"c2","i":"c2N3","g":"N","m":"c","d":85,"v":2.5},{"p":"c2","i":"c2N3","g":"N","m":"c","d":113,"v":2.8},{"p":"c2","i":"c2N3","g":"N","m":"c","d":211,"v":2.5},
{"p":"c2","i":"c2N4","g":"N","m":"c","d":1,"v":4.05},{"p":"c2","i":"c2N4","g":"N","m":"c","d":8,"v":2.5},{"p":"c2","i":"c2N4","g":"N","m":"c","d":15,"v":2.5},{"p":"c2","i":"c2N4","g":"N","m":"c","d":23,"v":2.5},{"p":"c2","i":"c2N4","g":"N","m":"c","d":36,"v":2.5},{"p":"c2","i":"c2N4","g":"N","m":"c","d":85,"v":2.5},{"p":"c2","i":"c2N4","g":"N","m":"c","d":113,"v":2.5},{"p":"c2","i":"c2N4","g":"N","m":"c","d":211,"v":2.5},
{"p":"c2","i":"c2N5","g":"N","m":"c","d":1,"v":2.5},{"p":"c2","i":"c2N5","g":"N","m":"c","d":8,"v":2.5},{"p":"c2","i":"c2N5","g":"N","m":"c","d":15,"v":2.5},{"p":"c2","i":"c2N5","g":"N","m":"c","d":23,"v":2.5},{"p":"c2","i":"c2N5","g":"N","m":"c","d":36,"v":2.5},

{"p":"c3","i":"c3P1","g":"P","m":"c","d":1,"v":8.85},{"p":"c3","i":"c3P1","g":"P","m":"c","d":8,"v":8.85},{"p":"c3","i":"c3P1","g":"P","m":"c","d":15,"v":8.75},{"p":"c3","i":"c3P1","g":"P","m":"c","d":23,"v":8.82},{"p":"c3","i":"c3P1","g":"P","m":"c","d":36,"v":8.82},{"p":"c3","i":"c3P1","g":"P","m":"c","d":85,"v":8.85},{"p":"c3","i":"c3P1","g":"P","m":"c","d":113,"v":8.85},{"p":"c3","i":"c3P1","g":"P","m":"c","d":211,"v":8.9},
{"p":"c3","i":"c3P2","g":"P","m":"c","d":1,"v":8.75},{"p":"c3","i":"c3P2","g":"P","m":"c","d":8,"v":8.78},{"p":"c3","i":"c3P2","g":"P","m":"c","d":15,"v":8.7},{"p":"c3","i":"c3P2","g":"P","m":"c","d":23,"v":8.72},{"p":"c3","i":"c3P2","g":"P","m":"c","d":36,"v":8.72},{"p":"c3","i":"c3P2","g":"P","m":"c","d":85,"v":8.75},{"p":"c3","i":"c3P2","g":"P","m":"c","d":113,"v":8.8},{"p":"c3","i":"c3P2","g":"P","m":"c","d":211,"v":8.6},
{"p":"c3","i":"c3P3","g":"P","m":"c","d":1,"v":8.65},{"p":"c3","i":"c3P3","g":"P","m":"c","d":8,"v":8.7},{"p":"c3","i":"c3P3","g":"P","m":"c","d":15,"v":8.62},{"p":"c3","i":"c3P3","g":"P","m":"c","d":23,"v":8.65},{"p":"c3","i":"c3P3","g":"P","m":"c","d":36,"v":8.65},{"p":"c3","i":"c3P3","g":"P","m":"c","d":85,"v":8.7},{"p":"c3","i":"c3P3","g":"P","m":"c","d":113,"v":8.7},{"p":"c3","i":"c3P3","g":"P","m":"c","d":211,"v":8.55},
{"p":"c3","i":"c3P4","g":"P","m":"c","d":1,"v":8.55},{"p":"c3","i":"c3P4","g":"P","m":"c","d":8,"v":8.6},{"p":"c3","i":"c3P4","g":"P","m":"c","d":15,"v":8.5},{"p":"c3","i":"c3P4","g":"P","m":"c","d":23,"v":8.5},{"p":"c3","i":"c3P4","g":"P","m":"c","d":36,"v":8.45},{"p":"c3","i":"c3P4","g":"P","m":"c","d":85,"v":8.6},{"p":"c3","i":"c3P4","g":"P","m":"c","d":113,"v":8.3},{"p":"c3","i":"c3P4","g":"P","m":"c","d":211,"v":8.45},
{"p":"c3","i":"c3P5","g":"P","m":"c","d":1,"v":8.5},{"p":"c3","i":"c3P5","g":"P","m":"c","d":8,"v":8.55},{"p":"c3","i":"c3P5","g":"P","m":"c","d":15,"v":8.45},{"p":"c3","i":"c3P5","g":"P","m":"c","d":23,"v":8.4},{"p":"c3","i":"c3P5","g":"P","m":"c","d":36,"v":8.3},{"p":"c3","i":"c3P5","g":"P","m":"c","d":85,"v":8.4},{"p":"c3","i":"c3P5","g":"P","m":"c","d":113,"v":8.15},{"p":"c3","i":"c3P5","g":"P","m":"c","d":211,"v":7.95},
{"p":"c3","i":"c3P6","g":"P","m":"c","d":1,"v":8.2},{"p":"c3","i":"c3P6","g":"P","m":"c","d":8,"v":8.2},{"p":"c3","i":"c3P6","g":"P","m":"c","d":15,"v":8.0},{"p":"c3","i":"c3P6","g":"P","m":"c","d":23,"v":8.1},{"p":"c3","i":"c3P6","g":"P","m":"c","d":36,"v":7.98},{"p":"c3","i":"c3P6","g":"P","m":"c","d":85,"v":7.92},{"p":"c3","i":"c3P6","g":"P","m":"c","d":113,"v":7.82},{"p":"c3","i":"c3P6","g":"P","m":"c","d":211,"v":7.42},
{"p":"c3","i":"c3N1","g":"N","m":"c","d":1,"v":6.4},{"p":"c3","i":"c3N1","g":"N","m":"c","d":8,"v":6.1},{"p":"c3","i":"c3N1","g":"N","m":"c","d":15,"v":5.5},{"p":"c3","i":"c3N1","g":"N","m":"c","d":23,"v":4.7},{"p":"c3","i":"c3N1","g":"N","m":"c","d":36,"v":4.0},{"p":"c3","i":"c3N1","g":"N","m":"c","d":85,"v":3.92},{"p":"c3","i":"c3N1","g":"N","m":"c","d":113,"v":3.92},
{"p":"c3","i":"c3N2","g":"N","m":"c","d":1,"v":4.9},{"p":"c3","i":"c3N2","g":"N","m":"c","d":8,"v":4.32},{"p":"c3","i":"c3N2","g":"N","m":"c","d":15,"v":4.0},{"p":"c3","i":"c3N2","g":"N","m":"c","d":23,"v":3.7},{"p":"c3","i":"c3N2","g":"N","m":"c","d":36,"v":3.7},{"p":"c3","i":"c3N2","g":"N","m":"c","d":85,"v":3.72},{"p":"c3","i":"c3N2","g":"N","m":"c","d":113,"v":3.72},
{"p":"c3","i":"c3N3","g":"N","m":"c","d":1,"v":4.65},{"p":"c3","i":"c3N3","g":"N","m":"c","d":8,"v":4.0},{"p":"c3","i":"c3N3","g":"N","m":"c","d":15,"v":3.3},{"p":"c3","i":"c3N3","g":"N","m":"c","d":23,"v":3.0},{"p":"c3","i":"c3N3","g":"N","m":"c","d":36,"v":2.95},{"p":"c3","i":"c3N3","g":"N","m":"c","d":85,"v":3.3},{"p":"c3","i":"c3N3","g":"N","m":"c","d":113,"v":3.2},{"p":"c3","i":"c3N3","g":"N","m":"c","d":211,"v":3.1},
{"p":"c3","i":"c3N4","g":"N","m":"c","d":1,"v":3.6},{"p":"c3","i":"c3N4","g":"N","m":"c","d":8,"v":3.2},{"p":"c3","i":"c3N4","g":"N","m":"c","d":15,"v":3.15},{"p":"c3","i":"c3N4","g":"N","m":"c","d":23,"v":3.1},{"p":"c3","i":"c3N4","g":"N","m":"c","d":36,"v":2.95},{"p":"c3","i":"c3N4","g":"N","m":"c","d":85,"v":2.95},{"p":"c3","i":"c3N4","g":"N","m":"c","d":113,"v":3.0},{"p":"c3","i":"c3N4","g":"N","m":"c","d":211,"v":2.95},
{"p":"c3","i":"c3N5","g":"N","m":"c","d":1,"v":3.1},{"p":"c3","i":"c3N5","g":"N","m":"c","d":8,"v":2.95},{"p":"c3","i":"c3N5","g":"N","m":"c","d":15,"v":2.45},{"p":"c3","i":"c3N5","g":"N","m":"c","d":23,"v":3.1},{"p":"c3","i":"c3N5","g":"N","m":"c","d":36,"v":2.45},{"p":"c3","i":"c3N5","g":"N","m":"c","d":85,"v":3.05},{"p":"c3","i":"c3N5","g":"N","m":"c","d":113,"v":3.1},{"p":"c3","i":"c3N5","g":"N","m":"c","d":211,"v":2.45},
{"p":"c3","i":"c3N6","g":"N","m":"c","d":1,"v":3.0},{"p":"c3","i":"c3N6","g":"N","m":"c","d":8,"v":2.9},{"p":"c3","i":"c3N6","g":"N","m":"c","d":15,"v":3.0},{"p":"c3","i":"c3N6","g":"N","m":"c","d":23,"v":2.45},{"p":"c3","i":"c3N6","g":"N","m":"c","d":36,"v":2.45},{"p":"c3","i":"c3N6","g":"N","m":"c","d":85,"v":2.95},{"p":"c3","i":"c3N6","g":"N","m":"c","d":113,"v":3.05},{"p":"c3","i":"c3N6","g":"N","m":"c","d":211,"v":3.05},

{"p":"d1","i":"d1N1","g":"N","m":"c","d":1,"v":3.05},{"p":"d1","i":"d1N1","g":"N","m":"c","d":15,"v":2.95},{"p":"d1","i":"d1N1","g":"N","m":"c","d":23,"v":2.88},{"p":"d1","i":"d1N1","g":"N","m":"c","d":29,"v":2.8},{"p":"d1","i":"d1N1","g":"N","m":"c","d":36,"v":2.78},{"p":"d1","i":"d1N1","g":"N","m":"c","d":55,"v":2.78},{"p":"d1","i":"d1N1","g":"N","m":"c","d":85,"v":2.82},{"p":"d1","i":"d1N1","g":"N","m":"c","d":113,"v":2.82},{"p":"d1","i":"d1N1","g":"N","m":"c","d":211,"v":2.88},
{"p":"d1","i":"d1N2","g":"N","m":"s","d":1,"v":2.95},{"p":"d1","i":"d1N2","g":"N","m":"s","d":15,"v":2.7},{"p":"d1","i":"d1N2","g":"N","m":"s","d":23,"v":1.45},{"p":"d1","i":"d1N2","g":"N","m":"s","d":29,"v":-0.2},{"p":"d1","i":"d1N2","g":"N","m":"s","d":36,"v":-0.45},{"p":"d1","i":"d1N2","g":"N","m":"s","d":40,"v":-0.6},{"p":"d1","i":"d1N2","g":"N","m":"s","d":43,"v":-0.7},{"p":"d1","i":"d1N2","g":"N","m":"s","d":47,"v":-0.95},{"p":"d1","i":"d1N2","g":"N","m":"s","d":50,"v":-0.8},{"p":"d1","i":"d1N2","g":"N","m":"s","d":53,"v":-0.9},{"p":"d1","i":"d1N2","g":"N","m":"s","d":55,"v":-0.75},{"p":"d1","i":"d1N2","g":"N","m":"s","d":85,"v":0.3},{"p":"d1","i":"d1N2","g":"N","m":"s","d":113,"v":0.8},{"p":"d1","i":"d1N2","g":"N","m":"s","d":211,"v":1.92},
{"p":"d1","i":"d1N3","g":"N","m":"t","d":1,"v":2.8},{"p":"d1","i":"d1N3","g":"N","m":"t","d":15,"v":2.4},{"p":"d1","i":"d1N3","g":"N","m":"t","d":23,"v":0.5},{"p":"d1","i":"d1N3","g":"N","m":"t","d":29,"v":-0.6},{"p":"d1","i":"d1N3","g":"N","m":"t","d":36,"v":-1.28},{"p":"d1","i":"d1N3","g":"N","m":"t","d":55,"v":-1.28},{"p":"d1","i":"d1N3","g":"N","m":"t","d":85,"v":-0.85},{"p":"d1","i":"d1N3","g":"N","m":"t","d":113,"v":0.15},{"p":"d1","i":"d1N3","g":"N","m":"t","d":211,"v":0.8},
{"p":"d1","i":"d1N4","g":"N","m":"s","d":1,"v":2.2},{"p":"d1","i":"d1N4","g":"N","m":"s","d":15,"v":-0.8},{"p":"d1","i":"d1N4","g":"N","m":"s","d":23,"v":-1.3},{"p":"d1","i":"d1N4","g":"N","m":"s","d":29,"v":-1.3},{"p":"d1","i":"d1N4","g":"N","m":"s","d":36,"v":-1.3},{"p":"d1","i":"d1N4","g":"N","m":"s","d":40,"v":-1.3},{"p":"d1","i":"d1N4","g":"N","m":"s","d":43,"v":-1.3},{"p":"d1","i":"d1N4","g":"N","m":"s","d":47,"v":-1.3},{"p":"d1","i":"d1N4","g":"N","m":"s","d":50,"v":-1.3},{"p":"d1","i":"d1N4","g":"N","m":"s","d":55,"v":-1.3},{"p":"d1","i":"d1N4","g":"N","m":"s","d":85,"v":-1.28},{"p":"d1","i":"d1N4","g":"N","m":"s","d":113,"v":-1.28},{"p":"d1","i":"d1N4","g":"N","m":"s","d":211,"v":-0.88},

{"p":"d2","i":"d2N1","g":"N","m":"c","d":1,"v":3.0},{"p":"d2","i":"d2N1","g":"N","m":"c","d":8,"v":3.12},{"p":"d2","i":"d2N1","g":"N","m":"c","d":15,"v":2.65},{"p":"d2","i":"d2N1","g":"N","m":"c","d":23,"v":2.5},{"p":"d2","i":"d2N1","g":"N","m":"c","d":36,"v":2.82},{"p":"d2","i":"d2N1","g":"N","m":"c","d":85,"v":2.5},{"p":"d2","i":"d2N1","g":"N","m":"c","d":113,"v":2.9},
{"p":"d2","i":"d2N2","g":"N","m":"c","d":1,"v":2.75},{"p":"d2","i":"d2N2","g":"N","m":"c","d":8,"v":2.72},{"p":"d2","i":"d2N2","g":"N","m":"c","d":15,"v":2.55},{"p":"d2","i":"d2N2","g":"N","m":"c","d":23,"v":2.5},{"p":"d2","i":"d2N2","g":"N","m":"c","d":36,"v":2.5},
{"p":"d2","i":"d2N3","g":"N","m":"c","d":1,"v":2.5},{"p":"d2","i":"d2N3","g":"N","m":"c","d":8,"v":2.5},{"p":"d2","i":"d2N3","g":"N","m":"c","d":15,"v":2.55},{"p":"d2","i":"d2N3","g":"N","m":"c","d":23,"v":2.5},{"p":"d2","i":"d2N3","g":"N","m":"c","d":36,"v":2.5},{"p":"d2","i":"d2N3","g":"N","m":"c","d":85,"v":2.5},{"p":"d2","i":"d2N3","g":"N","m":"c","d":113,"v":2.5},

{"p":"d3","i":"d3N1","g":"N","m":"c","d":1,"v":4.6},{"p":"d3","i":"d3N1","g":"N","m":"c","d":8,"v":4.58},{"p":"d3","i":"d3N1","g":"N","m":"c","d":15,"v":4.5},{"p":"d3","i":"d3N1","g":"N","m":"c","d":23,"v":4.58},{"p":"d3","i":"d3N1","g":"N","m":"c","d":36,"v":4.5},{"p":"d3","i":"d3N1","g":"N","m":"c","d":85,"v":4.6},{"p":"d3","i":"d3N1","g":"N","m":"c","d":113,"v":4.5},
{"p":"d3","i":"d3N2","g":"N","m":"c","d":1,"v":3.0},{"p":"d3","i":"d3N2","g":"N","m":"c","d":8,"v":3.0},{"p":"d3","i":"d3N2","g":"N","m":"c","d":15,"v":3.0},{"p":"d3","i":"d3N2","g":"N","m":"c","d":23,"v":3.0},{"p":"d3","i":"d3N2","g":"N","m":"c","d":36,"v":3.0},{"p":"d3","i":"d3N2","g":"N","m":"c","d":85,"v":3.0},{"p":"d3","i":"d3N2","g":"N","m":"c","d":113,"v":3.0},
{"p":"d3","i":"d3N3","g":"N","m":"c","d":1,"v":3.0},{"p":"d3","i":"d3N3","g":"N","m":"c","d":8,"v":3.0},{"p":"d3","i":"d3N3","g":"N","m":"c","d":15,"v":2.45},{"p":"d3","i":"d3N3","g":"N","m":"c","d":23,"v":3.0},{"p":"d3","i":"d3N3","g":"N","m":"c","d":36,"v":2.45}
]},
"columns": 4,
"spacing": {"row": 13.5, "column": 10},
"concat": [
{"width":126,"height":148,"title":{"text":"a"},"layer":[
 {"data":{"name":"d"},"transform":[{"filter":"datum.p=='a1'"}],"mark":{"type":"line","strokeWidth":1.2},"encoding":{"x":{"field":"d","type":"quantitative","scale":{"domain":[0,55,85,113,211,257],"range":[0.2,74,89.5,99,117.5,126]},"axis":{"values":[1,8,15,23,36,85,113,211],"tickCount":30,"labelAngle":270,"title":"Study day","labelOverlap":false,"labelFlush":false}},"y":{"field":"v","type":"quantitative","scale":{"domain":[-2,6],"nice":false,"zero":false},"axis":{"values":[-2,-1,0,1,2,3,4,5,6],"tickCount":30,"format":"d","title":"HBsAg (log₁₀ IU ml⁻¹)","labelOverlap":false}},"color":{"field":"g","type":"nominal","scale":{"domain":["P","N"],"range":["#3a78c2","#6b6b6b"]},"legend":{"title":null,"orient":"none","legendX":168,"legendY":584,"direction":"horizontal","symbolType":"M-1,-0.08L1,-0.08L1,0.08L-1,0.08Z M0.36,0A0.36,0.36,0,1,1,-0.36,0A0.36,0.36,0,1,1,0.36,0Z","symbolSize":225,"labelFontSize":9.2,"labelColor":"#222","columnPadding":67,"labelExpr":"datum.label=='P'?'HBeAg-positive':'HBeAg-negative'"}},"detail":{"field":"i"}}},
 {"data":{"name":"d"},"transform":[{"filter":"datum.p=='a1'"}],"mark":{"type":"point","filled":true,"size":22,"opacity":1},"encoding":{"x":{"field":"d","type":"quantitative"},"y":{"field":"v","type":"quantitative"},"color":{"field":"g","type":"nominal"},"shape":{"field":"m","type":"nominal","scale":{"domain":["c","t","s"],"range":["circle","triangle-up","cross"]},"legend":null}}},
 {"data":{"values":[{}]},"mark":{"type":"rect","color":"white"},"encoding":{"x":{"datum":62.5},"x2":{"datum":73.5},"y":{"datum":6.2},"y2":{"datum":-2.08}}},
 {"data":{"values":[{}]},"mark":{"type":"rule","strokeDash":[7,4],"color":"#111","strokeWidth":1.3},"encoding":{"y":{"datum":-1.27}}},
 {"data":{"values":[{}]},"mark":{"type":"text","text":"/","fontSize":10,"color":"#444","baseline":"middle"},"encoding":{"x":{"datum":62.5},"y":{"datum":-2}}},
 {"data":{"values":[{}]},"mark":{"type":"text","text":"/","fontSize":10,"color":"#444","baseline":"middle"},"encoding":{"x":{"datum":73.5},"y":{"datum":-2}}}
]},
{"width":126,"height":148,"title":{"text":"b"},"layer":[
 {"data":{"name":"d"},"transform":[{"filter":"datum.p=='b1'"}],"mark":{"type":"line","strokeWidth":1.2},"encoding":{"x":{"field":"d","type":"quantitative","scale":{"domain":[0,55,85,113,211,257],"range":[0.2,74,89.5,99,117.5,126]},"axis":{"values":[1,8,15,23,36,85,113,211],"tickCount":30,"labelAngle":270,"title":"Study day","labelOverlap":false,"labelFlush":false}},"y":{"field":"v","type":"quantitative","scale":{"domain":[-2,6],"nice":false,"zero":false},"axis":{"values":[-2,-1,0,1,2,3,4,5,6],"tickCount":30,"format":"d","title":"HBsAg (log₁₀ IU ml⁻¹)","labelOverlap":false}},"color":{"field":"g","type":"nominal"},"detail":{"field":"i"}}},
 {"data":{"name":"d"},"transform":[{"filter":"datum.p=='b1'"}],"mark":{"type":"point","filled":true,"size":22,"opacity":1},"encoding":{"x":{"field":"d","type":"quantitative"},"y":{"field":"v","type":"quantitative"},"color":{"field":"g","type":"nominal"},"shape":{"field":"m","type":"nominal","scale":{"domain":["c","t","s"],"range":["circle","triangle-up","cross"]},"legend":null}}},
 {"data":{"values":[{}]},"mark":{"type":"rect","color":"white"},"encoding":{"x":{"datum":62.5},"x2":{"datum":73.5},"y":{"datum":6.2},"y2":{"datum":-2.08}}},
 {"data":{"values":[{}]},"mark":{"type":"rule","strokeDash":[7,4],"color":"#111","strokeWidth":1.3},"encoding":{"y":{"datum":-1.27}}},
 {"data":{"values":[{}]},"mark":{"type":"text","text":"/","fontSize":10,"color":"#444","baseline":"middle"},"encoding":{"x":{"datum":62.5},"y":{"datum":-2}}},
 {"data":{"values":[{}]},"mark":{"type":"text","text":"/","fontSize":10,"color":"#444","baseline":"middle"},"encoding":{"x":{"datum":73.5},"y":{"datum":-2}}}
]},
{"width":126,"height":148,"title":{"text":"c"},"layer":[
 {"data":{"name":"d"},"transform":[{"filter":"datum.p=='c1'"}],"mark":{"type":"line","strokeWidth":1.2},"encoding":{"x":{"field":"d","type":"quantitative","scale":{"domain":[0,55,85,113,211,257],"range":[0.2,74,89.5,99,117.5,126]},"axis":{"values":[1,8,15,23,36,85,113,211],"tickCount":30,"labelAngle":270,"title":"Study day","labelOverlap":false,"labelFlush":false}},"y":{"field":"v","type":"quantitative","scale":{"domain":[-2,6],"nice":false,"zero":false},"axis":{"values":[-2,-1,0,1,2,3,4,5,6],"tickCount":30,"format":"d","title":"HBsAg (log₁₀ IU ml⁻¹)","labelOverlap":false}},"color":{"field":"g","type":"nominal"},"detail":{"field":"i"}}},
 {"data":{"name":"d"},"transform":[{"filter":"datum.p=='c1'"}],"mark":{"type":"point","filled":true,"size":22,"opacity":1},"encoding":{"x":{"field":"d","type":"quantitative"},"y":{"field":"v","type":"quantitative"},"color":{"field":"g","type":"nominal"},"shape":{"field":"m","type":"nominal","scale":{"domain":["c","t","s"],"range":["circle","triangle-up","cross"]},"legend":null}}},
 {"data":{"values":[{}]},"mark":{"type":"rect","color":"white"},"encoding":{"x":{"datum":62.5},"x2":{"datum":73.5},"y":{"datum":6.2},"y2":{"datum":-2.08}}},
 {"data":{"values":[{}]},"mark":{"type":"rule","strokeDash":[7,4],"color":"#111","strokeWidth":1.3},"encoding":{"y":{"datum":-1.27}}},
 {"data":{"values":[{}]},"mark":{"type":"text","text":"/","fontSize":10,"color":"#444","baseline":"middle"},"encoding":{"x":{"datum":62.5},"y":{"datum":-2}}},
 {"data":{"values":[{}]},"mark":{"type":"text","text":"/","fontSize":10,"color":"#444","baseline":"middle"},"encoding":{"x":{"datum":73.5},"y":{"datum":-2}}}
]},
{"width":126,"height":148,"title":{"text":"d"},"layer":[
 {"data":{"name":"d"},"transform":[{"filter":"datum.p=='d1'"}],"mark":{"type":"line","strokeWidth":1.2},"encoding":{"x":{"field":"d","type":"quantitative","scale":{"domain":[0,55,85,113,211,257],"range":[0.2,74,89.5,99,117.5,126]},"axis":{"values":[1,8,15,23,36,85,113,211],"tickCount":30,"labelAngle":270,"title":"Study day","labelOverlap":false,"labelFlush":false}},"y":{"field":"v","type":"quantitative","scale":{"domain":[-2,6],"nice":false,"zero":false},"axis":{"values":[-2,-1,0,1,2,3,4,5,6],"tickCount":30,"format":"d","title":"HBsAg (log₁₀ IU ml⁻¹)","labelOverlap":false}},"color":{"field":"g","type":"nominal"},"detail":{"field":"i"}}},
 {"data":{"name":"d"},"transform":[{"filter":"datum.p=='d1'"}],"mark":{"type":"point","filled":true,"size":22,"opacity":1},"encoding":{"x":{"field":"d","type":"quantitative"},"y":{"field":"v","type":"quantitative"},"color":{"field":"g","type":"nominal"},"shape":{"field":"m","type":"nominal","scale":{"domain":["c","t","s"],"range":["circle","triangle-up","cross"]},"legend":null}}},
 {"data":{"values":[{}]},"mark":{"type":"rect","color":"white"},"encoding":{"x":{"datum":62.5},"x2":{"datum":73.5},"y":{"datum":6.2},"y2":{"datum":-2.08}}},
 {"data":{"values":[{}]},"mark":{"type":"rule","strokeDash":[7,4],"color":"#111","strokeWidth":1.3},"encoding":{"y":{"datum":-1.27}}},
 {"data":{"values":[{}]},"mark":{"type":"text","text":"/","fontSize":10,"color":"#444","baseline":"middle"},"encoding":{"x":{"datum":62.5},"y":{"datum":-2}}},
 {"data":{"values":[{}]},"mark":{"type":"text","text":"/","fontSize":10,"color":"#444","baseline":"middle"},"encoding":{"x":{"datum":73.5},"y":{"datum":-2}}}
]},
{"width":126,"height":148,"layer":[
 {"data":{"name":"d"},"transform":[{"filter":"datum.p=='a2'"}],"mark":{"type":"line","strokeWidth":1.2},"encoding":{"x":{"field":"d","type":"quantitative","scale":{"domain":[0,55,85,113,211,257],"range":[0.2,74,89.5,99,117.5,126]},"axis":{"values":[1,8,15,23,36,85,113,211],"tickCount":30,"labelAngle":270,"title":"Study day","labelOverlap":false,"labelFlush":false}},"y":{"field":"v","type":"quantitative","scale":{"domain":[2,10],"nice":false,"zero":false},"axis":{"values":[2,3,4,5,6,7,8,9,10],"tickCount":30,"format":"d","title":"HBV RNA (log₁₀ copies ml⁻¹)","labelOverlap":false}},"color":{"field":"g","type":"nominal"},"detail":{"field":"i"}}},
 {"data":{"name":"d"},"transform":[{"filter":"datum.p=='a2'"}],"mark":{"type":"point","filled":true,"size":22,"opacity":1},"encoding":{"x":{"field":"d","type":"quantitative"},"y":{"field":"v","type":"quantitative"},"color":{"field":"g","type":"nominal"},"shape":{"field":"m","type":"nominal","scale":{"domain":["c","t","s"],"range":["circle","triangle-up","cross"]},"legend":null}}},
 {"data":{"values":[{}]},"mark":{"type":"rect","color":"white"},"encoding":{"x":{"datum":62.5},"x2":{"datum":73.5},"y":{"datum":10.2},"y2":{"datum":1.92}}},
 {"data":{"values":[{}]},"mark":{"type":"rule","strokeDash":[7,4],"color":"#111","strokeWidth":1.3},"encoding":{"y":{"datum":3}}},
 {"data":{"values":[{}]},"mark":{"type":"text","text":"/","fontSize":10,"color":"#444","baseline":"middle"},"encoding":{"x":{"datum":62.5},"y":{"datum":2}}},
 {"data":{"values":[{}]},"mark":{"type":"text","text":"/","fontSize":10,"color":"#444","baseline":"middle"},"encoding":{"x":{"datum":73.5},"y":{"datum":2}}}
]},
{"width":126,"height":148,"layer":[
 {"data":{"name":"d"},"transform":[{"filter":"datum.p=='b2'"}],"mark":{"type":"line","strokeWidth":1.2},"encoding":{"x":{"field":"d","type":"quantitative","scale":{"domain":[0,55,85,113,211,257],"range":[0.2,74,89.5,99,117.5,126]},"axis":{"values":[1,8,15,23,36,85,113,211],"tickCount":30,"labelAngle":270,"title":"Study day","labelOverlap":false,"labelFlush":false}},"y":{"field":"v","type":"quantitative","scale":{"domain":[2,10],"nice":false,"zero":false},"axis":{"values":[2,3,4,5,6,7,8,9,10],"tickCount":30,"format":"d","title":"HBV RNA (log₁₀ copies ml⁻¹)","labelOverlap":false}},"color":{"field":"g","type":"nominal"},"detail":{"field":"i"}}},
 {"data":{"name":"d"},"transform":[{"filter":"datum.p=='b2'"}],"mark":{"type":"point","filled":true,"size":22,"opacity":1},"encoding":{"x":{"field":"d","type":"quantitative"},"y":{"field":"v","type":"quantitative"},"color":{"field":"g","type":"nominal"},"shape":{"field":"m","type":"nominal","scale":{"domain":["c","t","s"],"range":["circle","triangle-up","cross"]},"legend":null}}},
 {"data":{"values":[{}]},"mark":{"type":"rect","color":"white"},"encoding":{"x":{"datum":62.5},"x2":{"datum":73.5},"y":{"datum":10.2},"y2":{"datum":1.92}}},
 {"data":{"values":[{}]},"mark":{"type":"rule","strokeDash":[7,4],"color":"#111","strokeWidth":1.3},"encoding":{"y":{"datum":3}}},
 {"data":{"values":[{}]},"mark":{"type":"text","text":"/","fontSize":10,"color":"#444","baseline":"middle"},"encoding":{"x":{"datum":62.5},"y":{"datum":2}}},
 {"data":{"values":[{}]},"mark":{"type":"text","text":"/","fontSize":10,"color":"#444","baseline":"middle"},"encoding":{"x":{"datum":73.5},"y":{"datum":2}}}
]},
{"width":126,"height":148,"layer":[
 {"data":{"name":"d"},"transform":[{"filter":"datum.p=='c2'"}],"mark":{"type":"line","strokeWidth":1.2},"encoding":{"x":{"field":"d","type":"quantitative","scale":{"domain":[0,55,85,113,211,257],"range":[0.2,74,89.5,99,117.5,126]},"axis":{"values":[1,8,15,23,36,85,113,211],"tickCount":30,"labelAngle":270,"title":"Study day","labelOverlap":false,"labelFlush":false}},"y":{"field":"v","type":"quantitative","scale":{"domain":[2,10],"nice":false,"zero":false},"axis":{"values":[2,3,4,5,6,7,8,9,10],"tickCount":30,"format":"d","title":"HBV RNA (log₁₀ copies ml⁻¹)","labelOverlap":false}},"color":{"field":"g","type":"nominal"},"detail":{"field":"i"}}},
 {"data":{"name":"d"},"transform":[{"filter":"datum.p=='c2'"}],"mark":{"type":"point","filled":true,"size":22,"opacity":1},"encoding":{"x":{"field":"d","type":"quantitative"},"y":{"field":"v","type":"quantitative"},"color":{"field":"g","type":"nominal"},"shape":{"field":"m","type":"nominal","scale":{"domain":["c","t","s"],"range":["circle","triangle-up","cross"]},"legend":null}}},
 {"data":{"values":[{}]},"mark":{"type":"rect","color":"white"},"encoding":{"x":{"datum":62.5},"x2":{"datum":73.5},"y":{"datum":10.2},"y2":{"datum":1.92}}},
 {"data":{"values":[{}]},"mark":{"type":"rule","strokeDash":[7,4],"color":"#111","strokeWidth":1.3},"encoding":{"y":{"datum":3}}},
 {"data":{"values":[{}]},"mark":{"type":"text","text":"/","fontSize":10,"color":"#444","baseline":"middle"},"encoding":{"x":{"datum":62.5},"y":{"datum":2}}},
 {"data":{"values":[{}]},"mark":{"type":"text","text":"/","fontSize":10,"color":"#444","baseline":"middle"},"encoding":{"x":{"datum":73.5},"y":{"datum":2}}}
]},
{"width":126,"height":148,"layer":[
 {"data":{"name":"d"},"transform":[{"filter":"datum.p=='d2'"}],"mark":{"type":"line","strokeWidth":1.2},"encoding":{"x":{"field":"d","type":"quantitative","scale":{"domain":[0,55,85,113,211,257],"range":[0.2,74,89.5,99,117.5,126]},"axis":{"values":[1,8,15,23,36,85,113,211],"tickCount":30,"labelAngle":270,"title":"Study day","labelOverlap":false,"labelFlush":false}},"y":{"field":"v","type":"quantitative","scale":{"domain":[2,10],"nice":false,"zero":false},"axis":{"values":[2,3,4,5,6,7,8,9,10],"tickCount":30,"format":"d","title":"HBV RNA (log₁₀ copies ml⁻¹)","labelOverlap":false}},"color":{"field":"g","type":"nominal"},"detail":{"field":"i"}}},
 {"data":{"name":"d"},"transform":[{"filter":"datum.p=='d2'"}],"mark":{"type":"point","filled":true,"size":22,"opacity":1},"encoding":{"x":{"field":"d","type":"quantitative"},"y":{"field":"v","type":"quantitative"},"color":{"field":"g","type":"nominal"},"shape":{"field":"m","type":"nominal","scale":{"domain":["c","t","s"],"range":["circle","triangle-up","cross"]},"legend":null}}},
 {"data":{"values":[{}]},"mark":{"type":"rect","color":"white"},"encoding":{"x":{"datum":62.5},"x2":{"datum":73.5},"y":{"datum":10.2},"y2":{"datum":1.92}}},
 {"data":{"values":[{}]},"mark":{"type":"rule","strokeDash":[7,4],"color":"#111","strokeWidth":1.3},"encoding":{"y":{"datum":3}}},
 {"data":{"values":[{}]},"mark":{"type":"text","text":"/","fontSize":10,"color":"#444","baseline":"middle"},"encoding":{"x":{"datum":62.5},"y":{"datum":2}}},
 {"data":{"values":[{}]},"mark":{"type":"text","text":"/","fontSize":10,"color":"#444","baseline":"middle"},"encoding":{"x":{"datum":73.5},"y":{"datum":2}}}
]},
{"width":126,"height":148,"layer":[
 {"data":{"name":"d"},"transform":[{"filter":"datum.p=='a3'"}],"mark":{"type":"line","strokeWidth":1.2},"encoding":{"x":{"field":"d","type":"quantitative","scale":{"domain":[0,55,85,113,211,257],"range":[0.2,74,89.5,99,117.5,126]},"axis":{"values":[1,8,15,23,36,85,113,211],"tickCount":30,"labelAngle":270,"title":"Study day","labelOverlap":false,"labelFlush":false}},"y":{"field":"v","type":"quantitative","scale":{"domain":[2,10],"nice":false,"zero":false},"axis":{"values":[2,3,4,5,6,7,8,9,10],"tickCount":30,"format":"d","title":"HBcrAg (log₁₀ IU ml⁻¹)","labelOverlap":false}},"color":{"field":"g","type":"nominal"},"detail":{"field":"i"}}},
 {"data":{"name":"d"},"transform":[{"filter":"datum.p=='a3'"}],"mark":{"type":"point","filled":true,"size":22,"opacity":1},"encoding":{"x":{"field":"d","type":"quantitative"},"y":{"field":"v","type":"quantitative"},"color":{"field":"g","type":"nominal"},"shape":{"field":"m","type":"nominal","scale":{"domain":["c","t","s"],"range":["circle","triangle-up","cross"]},"legend":null}}},
 {"data":{"values":[{}]},"mark":{"type":"rect","color":"white"},"encoding":{"x":{"datum":62.5},"x2":{"datum":73.5},"y":{"datum":10.2},"y2":{"datum":1.92}}},
 {"data":{"values":[{}]},"mark":{"type":"rule","strokeDash":[7,4],"color":"#111","strokeWidth":1.3},"encoding":{"y":{"datum":3}}},
 {"data":{"values":[{}]},"mark":{"type":"text","text":"/","fontSize":10,"color":"#444","baseline":"middle"},"encoding":{"x":{"datum":62.5},"y":{"datum":2}}},
 {"data":{"values":[{}]},"mark":{"type":"text","text":"/","fontSize":10,"color":"#444","baseline":"middle"},"encoding":{"x":{"datum":73.5},"y":{"datum":2}}}
]},
{"width":126,"height":148,"layer":[
 {"data":{"name":"d"},"transform":[{"filter":"datum.p=='b3'"}],"mark":{"type":"line","strokeWidth":1.2},"encoding":{"x":{"field":"d","type":"quantitative","scale":{"domain":[0,55,85,113,211,257],"range":[0.2,74,89.5,99,117.5,126]},"axis":{"values":[1,8,15,23,36,85,113,211],"tickCount":30,"labelAngle":270,"title":"Study day","labelOverlap":false,"labelFlush":false}},"y":{"field":"v","type":"quantitative","scale":{"domain":[2,10],"nice":false,"zero":false},"axis":{"values":[2,3,4,5,6,7,8,9,10],"tickCount":30,"format":"d","title":"HBsAg (log₁₀ IU ml⁻¹)","labelOverlap":false}},"color":{"field":"g","type":"nominal"},"detail":{"field":"i"}}},
 {"data":{"name":"d"},"transform":[{"filter":"datum.p=='b3'"}],"mark":{"type":"point","filled":true,"size":22,"opacity":1},"encoding":{"x":{"field":"d","type":"quantitative"},"y":{"field":"v","type":"quantitative"},"color":{"field":"g","type":"nominal"},"shape":{"field":"m","type":"nominal","scale":{"domain":["c","t","s"],"range":["circle","triangle-up","cross"]},"legend":null}}},
 {"data":{"values":[{}]},"mark":{"type":"rect","color":"white"},"encoding":{"x":{"datum":62.5},"x2":{"datum":73.5},"y":{"datum":10.2},"y2":{"datum":1.92}}},
 {"data":{"values":[{}]},"mark":{"type":"rule","strokeDash":[7,4],"color":"#111","strokeWidth":1.3},"encoding":{"y":{"datum":3}}},
 {"data":{"values":[{}]},"mark":{"type":"text","text":"/","fontSize":10,"color":"#444","baseline":"middle"},"encoding":{"x":{"datum":62.5},"y":{"datum":2}}},
 {"data":{"values":[{}]},"mark":{"type":"text","text":"/","fontSize":10,"color":"#444","baseline":"middle"},"encoding":{"x":{"datum":73.5},"y":{"datum":2}}}
]},
{"width":126,"height":148,"layer":[
 {"data":{"name":"d"},"transform":[{"filter":"datum.p=='c3'"}],"mark":{"type":"line","strokeWidth":1.2},"encoding":{"x":{"field":"d","type":"quantitative","scale":{"domain":[0,55,85,113,211,257],"range":[0.2,74,89.5,99,117.5,126]},"axis":{"values":[1,8,15,23,36,85,113,211],"tickCount":30,"labelAngle":270,"title":"Study day","labelOverlap":false,"labelFlush":false}},"y":{"field":"v","type":"quantitative","scale":{"domain":[2,10],"nice":false,"zero":false},"axis":{"values":[2,3,4,5,6,7,8,9,10],"tickCount":30,"format":"d","title":"HBcrAg (log₁₀ IU ml⁻¹)","labelOverlap":false}},"color":{"field":"g","type":"nominal"},"detail":{"field":"i"}}},
 {"data":{"name":"d"},"transform":[{"filter":"datum.p=='c3'"}],"mark":{"type":"point","filled":true,"size":22,"opacity":1},"encoding":{"x":{"field":"d","type":"quantitative"},"y":{"field":"v","type":"quantitative"},"color":{"field":"g","type":"nominal"},"shape":{"field":"m","type":"nominal","scale":{"domain":["c","t","s"],"range":["circle","triangle-up","cross"]},"legend":null}}},
 {"data":{"values":[{}]},"mark":{"type":"rect","color":"white"},"encoding":{"x":{"datum":62.5},"x2":{"datum":73.5},"y":{"datum":10.2},"y2":{"datum":1.92}}},
 {"data":{"values":[{}]},"mark":{"type":"rule","strokeDash":[7,4],"color":"#111","strokeWidth":1.3},"encoding":{"y":{"datum":3}}},
 {"data":{"values":[{}]},"mark":{"type":"text","text":"/","fontSize":10,"color":"#444","baseline":"middle"},"encoding":{"x":{"datum":62.5},"y":{"datum":2}}},
 {"data":{"values":[{}]},"mark":{"type":"text","text":"/","fontSize":10,"color":"#444","baseline":"middle"},"encoding":{"x":{"datum":73.5},"y":{"datum":2}}}
]},
{"width":126,"height":148,"layer":[
 {"data":{"name":"d"},"transform":[{"filter":"datum.p=='d3'"}],"mark":{"type":"line","strokeWidth":1.2},"encoding":{"x":{"field":"d","type":"quantitative","scale":{"domain":[0,55,85,113,211,257],"range":[0.2,74,89.5,99,117.5,126]},"axis":{"values":[1,8,15,23,36,85,113,211],"tickCount":30,"labelAngle":270,"title":"Study day","labelOverlap":false,"labelFlush":false}},"y":{"field":"v","type":"quantitative","scale":{"domain":[2,10],"nice":false,"zero":false},"axis":{"values":[2,3,4,5,6,7,8,9,10],"tickCount":30,"format":"d","title":"HBcrAg (log₁₀ IU ml⁻¹)","labelOverlap":false}},"color":{"field":"g","type":"nominal"},"detail":{"field":"i"}}},
 {"data":{"name":"d"},"transform":[{"filter":"datum.p=='d3'"}],"mark":{"type":"point","filled":true,"size":22,"opacity":1},"encoding":{"x":{"field":"d","type":"quantitative"},"y":{"field":"v","type":"quantitative"},"color":{"field":"g","type":"nominal"},"shape":{"field":"m","type":"nominal","scale":{"domain":["c","t","s"],"range":["circle","triangle-up","cross"]},"legend":null}}},
 {"data":{"values":[{}]},"mark":{"type":"rect","color":"white"},"encoding":{"x":{"datum":62.5},"x2":{"datum":73.5},"y":{"datum":10.2},"y2":{"datum":1.92}}},
 {"data":{"values":[{}]},"mark":{"type":"rule","strokeDash":[7,4],"color":"#111","strokeWidth":1.3},"encoding":{"y":{"datum":3}}},
 {"data":{"values":[{}]},"mark":{"type":"text","text":"/","fontSize":10,"color":"#444","baseline":"middle"},"encoding":{"x":{"datum":62.5},"y":{"datum":2}}},
 {"data":{"values":[{}]},"mark":{"type":"text","text":"/","fontSize":10,"color":"#444","baseline":"middle"},"encoding":{"x":{"datum":73.5},"y":{"datum":2}}}
]}
]
}
